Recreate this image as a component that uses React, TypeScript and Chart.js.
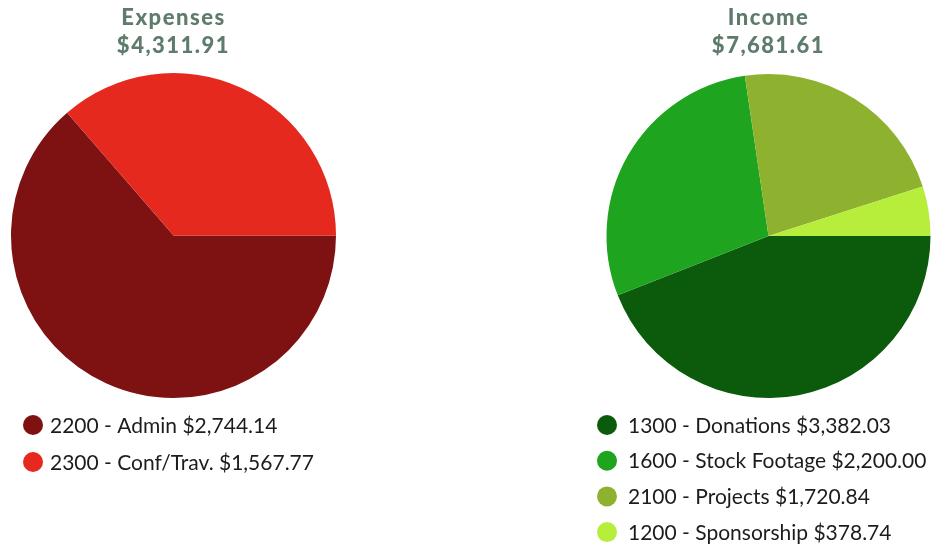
import React, { useEffect, useRef } from "react";
import { Chart, registerables } from "chart.js";

Chart.register(...registerables);

const expenseLabels = ["2200 - Admin", "2300 - Conf/Trav."];
const expenseValues = [2744.14, 1567.77];
const expenseColors = ["#7e1111", "#e5291f"];
const expenseTitle = ["Expenses", "$4,311.91"];

const incomeLabels = ["1300 - Donations", "1600 - Stock Footage", "2100 - Projects", "1200 - Sponsorship"];
const incomeValues = [3382.03, 2200.0, 1720.84, 378.74];
const incomeColors = ["#0c5b0c", "#1fa41f", "#8eb22f", "#b6ee3b"];
const incomeTitle = ["Income", "$7,681.61"];

const FONT = "Lato, 'Open Sans', sans-serif";
const TITLE_COLOR = "#5f7b6c";

function fmt(v: number) {
  return "$" + v.toLocaleString("en-US", { minimumFractionDigits: 2, maximumFractionDigits: 2 });
}

function makeOverlay(title: string[], legendX: number, legendY: number, rowGap: number, textGap: number) {
  return {
    id: "overlay",
    afterDraw(chart: any) {
      const ctx = chart.ctx;
      const area = chart.chartArea;
      const cx = (area.left + area.right) / 2;
      ctx.save();
      ctx.fillStyle = TITLE_COLOR;
      ctx.textAlign = "center";
      ctx.textBaseline = "alphabetic";
      ctx.font = `900 22px ${FONT}`;
      (ctx as any).letterSpacing = "1.5px";
      ctx.fillText(title[0], cx, 25);
      ctx.fillText(title[1], cx, 53);
      (ctx as any).letterSpacing = "0px";
      const labels = chart.data.labels as string[];
      const ds = chart.data.datasets[0];
      ctx.font = `21px ${FONT}`;
      ctx.textAlign = "left";
      ctx.textBaseline = "middle";
      labels.forEach((lab, i) => {
        const y = legendY + i * rowGap;
        ctx.beginPath();
        ctx.fillStyle = ds.backgroundColor[i];
        ctx.arc(legendX, y, 10, 0, Math.PI * 2);
        ctx.fill();
        ctx.fillStyle = "#1c1c1c";
        ctx.fillText(lab + " " + fmt(ds.data[i]), legendX + textGap, y + 1);
      });
      ctx.restore();
    },
  };
}

function PieCanvas(props: {
  labels: string[];
  values: number[];
  colors: string[];
  title: string[];
  padding: any;
  legendX: number;
  legendY: number;
  rowGap: number;
  textGap: number;
  left: number;
}) {
  const ref = useRef<HTMLCanvasElement>(null);
  useEffect(() => {
    const chart = new Chart(ref.current as HTMLCanvasElement, {
      type: "pie",
      data: {
        labels: props.labels,
        datasets: [
          {
            data: props.values,
            backgroundColor: props.colors,
            borderWidth: 0,
          },
        ],
      },
      options: {
        responsive: false,
        animation: false,
        rotation: 90,
        layout: { padding: props.padding },
        plugins: { legend: { display: false }, tooltip: { enabled: false }, title: { display: false } },
      },
      plugins: [makeOverlay(props.title, props.legendX, props.legendY, props.rowGap, props.textGap)],
    });
    return () => chart.destroy();
  }, []);
  return (
    <canvas
      ref={ref}
      width={470}
      height={546}
      style={{ position: "absolute", left: props.left, top: 0, width: 470, height: 546 }}
    />
  );
}

export default function App() {
  return (
    <div style={{ position: "fixed", left: 0, top: 0, width: 940, height: 546, background: "#ffffff" }}>
      <PieCanvas
        labels={expenseLabels}
        values={expenseValues}
        colors={expenseColors}
        title={expenseTitle}
        padding={{ top: 73, bottom: 148, left: 11, right: 134 }}
        legendX={33}
        legendY={425}
        rowGap={37}
        textGap={17}
        left={0}
      />
      <PieCanvas
        labels={incomeLabels}
        values={incomeValues}
        colors={incomeColors}
        title={incomeTitle}
        padding={{ top: 74, bottom: 148, left: 136, right: 9 }}
        legendX={137}
        legendY={425}
        rowGap={35.7}
        textGap={21}
        left={470}
      />
    </div>
  );
}
